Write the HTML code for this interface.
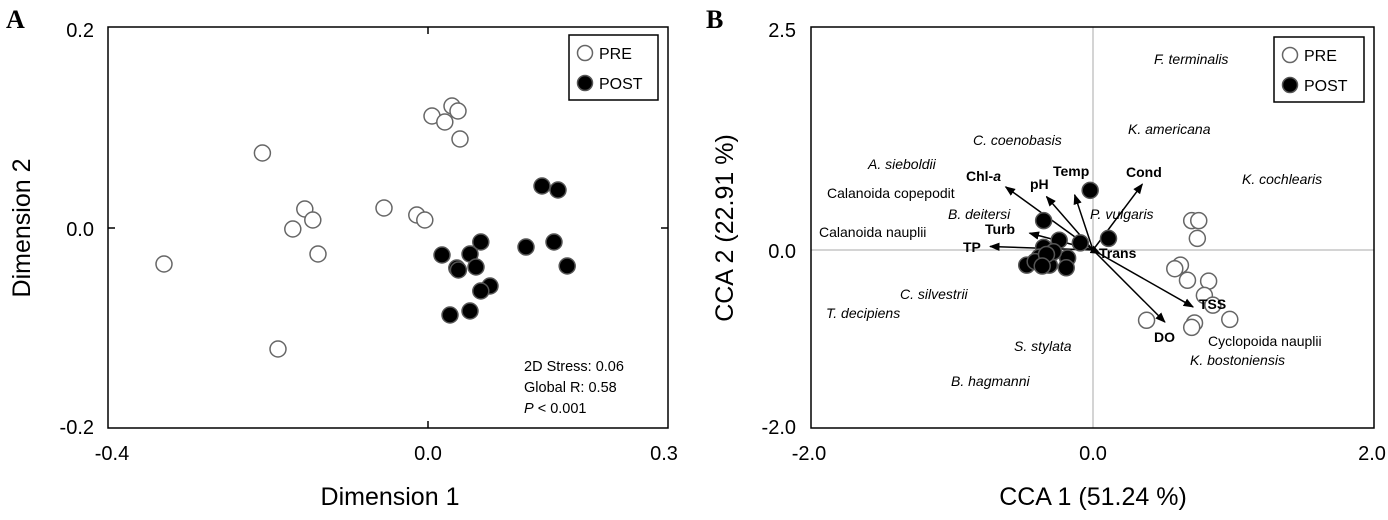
<!DOCTYPE html>
<html><head><meta charset="utf-8"><style>
body{margin:0;background:#fff}
svg{display:block;font-family:"Liberation Sans",sans-serif}
</style></head><body>
<svg id="chart" width="1388" height="520" viewBox="0 0 1388 520">
<defs><marker id="ah" viewBox="0 0 10 10" refX="9" refY="5" markerWidth="7" markerHeight="7" orient="auto"><path d="M0,1 L10,5 L0,9 z" fill="#000"/></marker></defs>
<!-- Panel A -->
<g>
<text x="6" y="28" font-family="Liberation Serif,serif" font-weight="bold" font-size="26">A</text>
<rect x="108" y="27" width="560" height="401" fill="none" stroke="#000" stroke-width="1.5"/>
<g stroke="#000" stroke-width="1.5"><line x1="428" y1="27" x2="428" y2="34"/><line x1="428" y1="428" x2="428" y2="421"/><line x1="108" y1="228" x2="115" y2="228"/><line x1="668" y1="228" x2="661" y2="228"/></g>
<g font-size="20" text-anchor="end">
<text x="94" y="37">0.2</text><text x="94" y="236">0.0</text><text x="94" y="434">-0.2</text></g>
<g font-size="20" text-anchor="middle">
<text x="112" y="460">-0.4</text><text x="428" y="460">0.0</text><text x="664" y="460">0.3</text></g>
<text x="390" y="505" font-size="25" text-anchor="middle">Dimension 1</text>
<text transform="translate(30,228) rotate(-90)" font-size="25" text-anchor="middle">Dimension 2</text>
<g>
<rect x="569" y="35" width="89" height="65" fill="#fff" stroke="#000" stroke-width="1.5"/>
<circle cx="585" cy="53" r="7.5" fill="#fff" stroke="#666" stroke-width="1.5"/><text x="599" y="59" font-size="16">PRE</text>
<circle cx="585" cy="83" r="7.5" fill="#000" stroke="#555" stroke-width="1.5"/><text x="599" y="89" font-size="16">POST</text></g>
<g font-size="14.5">
<text x="524" y="371">2D Stress: 0.06</text><text x="524" y="392">Global R: 0.58</text><text x="524" y="413"><tspan font-style="italic">P</tspan> &lt; 0.001</text></g>
<g id="ptsA"></g>
</g>
<!-- Panel B -->
<g>
<text x="706" y="28" font-family="Liberation Serif,serif" font-weight="bold" font-size="26">B</text>
<line x1="1093" y1="27" x2="1093" y2="428" stroke="#aaa" stroke-width="1"/>
<line x1="811" y1="250" x2="1374" y2="250" stroke="#aaa" stroke-width="1"/>
<rect x="811" y="27" width="563" height="401" fill="none" stroke="#000" stroke-width="1.5"/>
<g font-size="20" text-anchor="end">
<text x="796" y="37">2.5</text><text x="796" y="258">0.0</text><text x="796" y="434">-2.0</text></g>
<g font-size="20" text-anchor="middle">
<text x="809" y="460">-2.0</text><text x="1093" y="460">0.0</text><text x="1372" y="460">2.0</text></g>
<text x="1093" y="505" font-size="25" text-anchor="middle">CCA 1 (51.24 %)</text>
<text transform="translate(733,228) rotate(-90)" font-size="25" text-anchor="middle">CCA 2 (22.91 %)</text>
<g id="arrowsB"></g>
<g id="ptsB"></g>
<g font-size="14" font-style="italic">
<text x="1154" y="64">F. terminalis</text><text x="1128" y="134">K. americana</text>
<text x="973" y="145">C. coenobasis</text><text x="868" y="169">A. sieboldii</text>
<text x="1242" y="184">K. cochlearis</text><text x="827" y="198" font-style="normal">Calanoida copepodit</text>
<text x="948" y="219">B. deitersi</text><text x="1090" y="219">P. vulgaris</text>
<text x="819" y="237" font-style="normal">Calanoida nauplii</text><text x="900" y="299">C. silvestrii</text>
<text x="826" y="318">T. decipiens</text><text x="1014" y="351">S. stylata</text>
<text x="951" y="386">B. hagmanni</text><text x="1208" y="346" font-style="normal">Cyclopoida nauplii</text>
<text x="1190" y="365">K. bostoniensis</text></g>
<g font-size="14" font-weight="bold">
<text x="966" y="181">Chl-<tspan font-style="italic">a</tspan></text><text x="1030" y="189">pH</text>
<text x="1053" y="176">Temp</text><text x="1126" y="177">Cond</text>
<text x="985" y="234">Turb</text><text x="963" y="252">TP</text>
<text x="1099" y="258">Trans</text><text x="1199" y="309">TSS</text><text x="1154" y="342">DO</text></g>
<g>
<rect x="1274" y="37" width="90" height="65" fill="#fff" stroke="#000" stroke-width="1.5"/>
<circle cx="1290" cy="55" r="7.5" fill="#fff" stroke="#666" stroke-width="1.5"/><text x="1304" y="61" font-size="16">PRE</text>
<circle cx="1290" cy="85" r="7.5" fill="#000" stroke="#555" stroke-width="1.5"/><text x="1304" y="91" font-size="16">POST</text></g>
</g>
</svg>
<script>
const preAx=[-0.33,-0.207,-0.1875,-0.154,-0.144,-0.169,-0.1375,-0.055,-0.014,-0.004,0.005,0.030,0.0375,0.021,0.04];
const preAy=[-0.036,0.075,-0.121,0.019,0.008,-0.001,-0.026,0.02,0.013,0.008,0.112,0.122,0.117,0.106,0.089];
const postAx=[0.0175,0.066,0.0525,0.036,0.06,0.0775,0.066,0.0275,0.0525,0.1225,0.1425,0.1625,0.1575,0.174,0.038];
const postAy=[-0.027,-0.014,-0.026,-0.040,-0.039,-0.058,-0.063,-0.087,-0.083,-0.019,0.042,0.038,-0.014,-0.038,-0.042];
const preBx=[0.70,0.75,0.74,0.62,0.58,0.67,0.82,0.79,0.85,0.97,0.38,0.72,0.70];
const preBy=[0.33,0.33,0.13,-0.17,-0.21,-0.34,-0.35,-0.51,-0.62,-0.78,-0.79,-0.82,-0.87];
const postBx=[-0.02,-0.35,0.11,-0.09,-0.24,-0.35,-0.47,-0.31,-0.18,-0.19,-0.38,-0.28,-0.41,-0.33,-0.36];
const postBy=[0.67,0.33,0.13,0.08,0.11,0.03,-0.17,-0.17,-0.09,-0.20,-0.08,-0.02,-0.13,-0.05,-0.18];
const envNames=['Chl-a','pH','Temp','Cond','Turb','TP','Trans','TSS','DO'];
const envX=[-0.62,-0.33,-0.13,0.35,-0.45,-0.73,0.05,0.71,0.51];
const envY=[0.71,0.60,0.62,0.74,0.19,0.04,-0.04,-0.64,-0.81];
const NS='http://www.w3.org/2000/svg';
const xA=v=>428+v*800, yA=v=>228-v*1000;
const xB=v=>1093+v*141, yB=v=>250-v*89;
function dot(g,cx,cy,pre,name){
 const c=document.createElementNS(NS,'circle');
 c.setAttribute('cx',cx);c.setAttribute('cy',cy);c.setAttribute('r',8);
 c.setAttribute('fill',pre?'#fff':'#000');c.setAttribute('stroke',pre?'#666':'#555');c.setAttribute('stroke-width',1.5);
 
 
 g.appendChild(c);}
const gA=document.getElementById('ptsA'), gB=document.getElementById('ptsB'), gR=document.getElementById('arrowsB');
preAx.forEach((v,i)=>dot(gA,xA(v),yA(preAy[i]),true,'pre-point-a'));
postAx.forEach((v,i)=>dot(gA,xA(v),yA(postAy[i]),false,'post-point-a'));
preBx.forEach((v,i)=>dot(gB,xB(v),yB(preBy[i]),true,'pre-point-b'));
postBx.forEach((v,i)=>dot(gB,xB(v),yB(postBy[i]),false,'post-point-b'));
envX.forEach((v,i)=>{
 const l=document.createElementNS(NS,'line');
 l.setAttribute('x1',xB(0));l.setAttribute('y1',yB(0));l.setAttribute('x2',xB(v));l.setAttribute('y2',yB(envY[i]));
 l.setAttribute('stroke','#000');l.setAttribute('stroke-width',1.5);l.setAttribute('marker-end','url(#ah)');
 
 
 gR.appendChild(l);});
</script>
</body></html>
